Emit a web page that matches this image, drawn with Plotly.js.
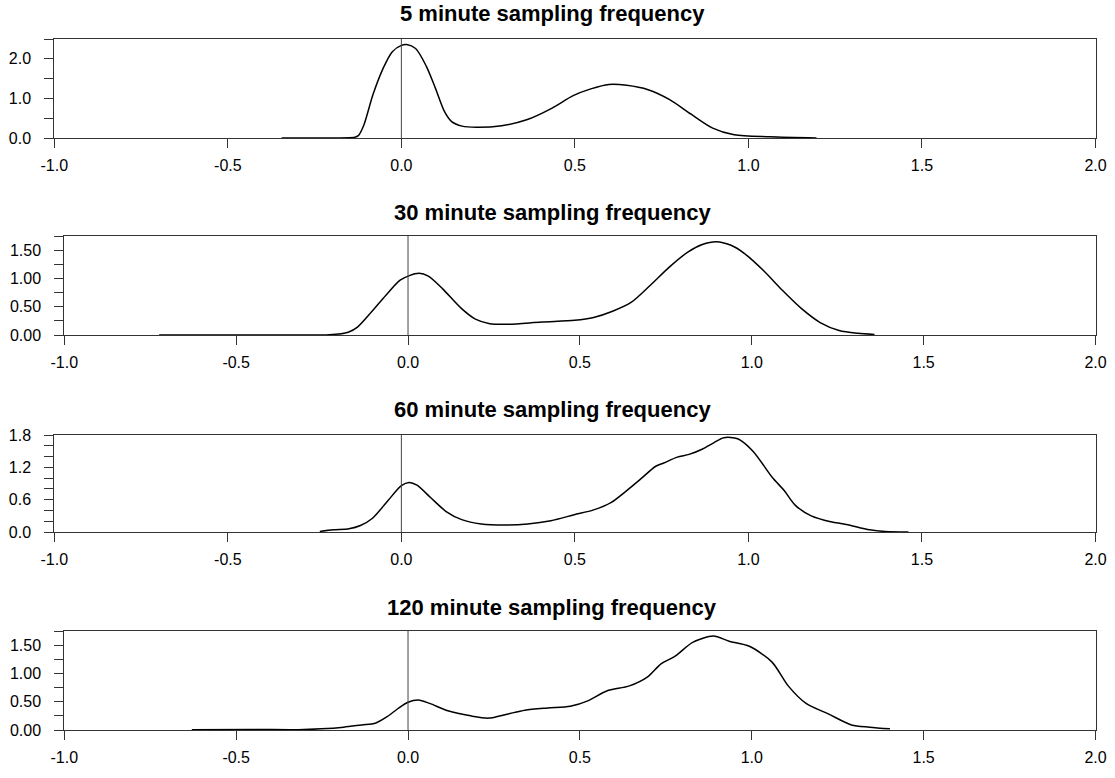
<!DOCTYPE html>
<html>
<head>
<meta charset="utf-8">
<script src="https://cdn.plot.ly/plotly-3.0.1.min.js"></script>
<style>html,body{margin:0;padding:0;background:#fff;}#chart{width:1115px;height:778px;}</style>
</head>
<body>
<div id="chart"></div>
<script>
// ---- data ----
const panelTitles = ["5 minute sampling frequency", "30 minute sampling frequency", "60 minute sampling frequency", "120 minute sampling frequency"];

const x5 = [-0.345,-0.227,-0.134,-0.124,-0.108,-0.082,-0.052,-0.026,0.0,0.015,0.041,0.072,0.098,0.124,0.144,0.175,0.216,0.289,0.361,0.433,0.495,0.546,0.598,0.649,0.711,0.773,0.835,0.897,0.959,1.062,1.196];
const y5 = [0.0,0.0,0.02,0.06,0.33,1.09,1.77,2.18,2.34,2.36,2.26,1.81,1.26,0.67,0.42,0.30,0.27,0.31,0.46,0.75,1.07,1.24,1.35,1.33,1.22,0.97,0.60,0.25,0.08,0.03,0.0];

const x30 = [-0.724,-0.545,-0.339,-0.229,-0.174,-0.147,-0.106,-0.065,-0.023,0.004,0.032,0.059,0.100,0.155,0.196,0.238,0.293,0.389,0.485,0.540,0.595,0.650,0.705,0.760,0.815,0.856,0.897,0.938,0.979,1.034,1.089,1.144,1.199,1.254,1.309,1.357];
const y30 = [0.0,0.0,0.0,0.005,0.05,0.14,0.41,0.70,0.97,1.05,1.09,1.04,0.82,0.47,0.28,0.20,0.19,0.23,0.26,0.31,0.42,0.58,0.88,1.20,1.47,1.60,1.65,1.59,1.44,1.14,0.79,0.47,0.22,0.08,0.03,0.01];

const x60 = [-0.235,-0.196,-0.151,-0.118,-0.084,-0.039,0.0,0.022,0.045,0.084,0.129,0.174,0.230,0.297,0.364,0.431,0.498,0.554,0.605,0.644,0.689,0.733,0.756,0.795,0.829,0.868,0.901,0.929,0.969,1.013,1.069,1.103,1.136,1.181,1.237,1.282,1.349,1.394,1.461];
const y60 = [0.01,0.04,0.06,0.12,0.25,0.58,0.86,0.92,0.87,0.64,0.38,0.23,0.15,0.13,0.15,0.21,0.32,0.41,0.55,0.74,0.98,1.22,1.28,1.39,1.44,1.54,1.66,1.75,1.73,1.50,1.01,0.77,0.49,0.30,0.19,0.14,0.04,0.01,0.0];

const x120 = [-0.629,-0.451,-0.319,-0.253,-0.187,-0.135,-0.095,-0.062,-0.029,0.0,0.030,0.063,0.116,0.182,0.235,0.288,0.340,0.406,0.472,0.525,0.578,0.644,0.697,0.736,0.776,0.828,0.888,0.934,0.993,1.059,1.106,1.158,1.224,1.290,1.343,1.402];
const y120 = [0.005,0.01,0.005,0.02,0.05,0.09,0.12,0.23,0.38,0.49,0.53,0.47,0.34,0.25,0.21,0.28,0.35,0.39,0.42,0.52,0.69,0.78,0.94,1.17,1.30,1.55,1.66,1.57,1.48,1.20,0.78,0.47,0.28,0.09,0.05,0.02];

const xTickVals = [-1.0, -0.5, 0.0, 0.5, 1.0, 1.5, 2.0];
const xTickText = ["-1.0", "-0.5", "0.0", "0.5", "1.0", "1.5", "2.0"];
const yRangeTop = [2.5, 1.75, 1.8, 1.75];
const yMajorStep = [1.0, 0.5, 0.6, 0.5];
const yMinorStep = [0.5, 0.25, 0.2, 0.25];
const yTickFormat = [".1f", ".2f", ".1f", ".2f"];

const seriesX = [x5, x30, x60, x120];
const seriesY = [y5, y30, y60, y120];

// ---- layout geometry (pixels) ----
const W = 1115, H = 778;
const plotLeft = [54.3, 64.3, 54.3, 64.3];
const plotRight = 1095.5;
const plotTop = [39, 236, 435, 631];
const plotBottom = [138, 335, 532, 730];
const titleY = [14, 212, 409, 607];
const titleX = 552;

const tickFont = {family: "Liberation Sans, Arial", size: 16, color: "#000"};
const titleFont = {family: "Liberation Sans, Arial", size: 22, color: "#000", weight: "bold"};
const axisColor = "#333";

const traces = [];
const layout = {
  width: W, height: H,
  margin: {l: 0, r: 0, t: 0, b: 0},
  paper_bgcolor: "#fff", plot_bgcolor: "#fff",
  showlegend: false,
  shapes: [], annotations: []
};

for (let i = 0; i < 4; i++) {
  const n = i === 0 ? "" : String(i + 1);
  traces.push({
    x: seriesX[i], y: seriesY[i], type: "scatter", mode: "lines",
    xaxis: "x" + n, yaxis: "y" + n,
    line: {color: "#000", width: 1.5, shape: "spline", smoothing: 0.8},
    hoverinfo: "skip"
  });
  layout["xaxis" + n] = {
    domain: [plotLeft[i] / W, plotRight / W],
    range: [-1, 2], anchor: "y" + n,
    tickvals: xTickVals, ticktext: xTickText,
    ticks: "outside", ticklen: 9, tickwidth: 1, tickcolor: axisColor,
    showline: true, linecolor: axisColor, linewidth: 1, mirror: true,
    showgrid: false, zeroline: false,
    tickfont: tickFont, ticklabelstandoff: 4, fixedrange: true
  };
  layout["yaxis" + n] = {
    domain: [(H - plotBottom[i]) / H, (H - plotTop[i]) / H],
    range: [0, yRangeTop[i]], anchor: "x" + n,
    tick0: 0, dtick: yMajorStep[i], tickformat: yTickFormat[i],
    ticks: "outside", ticklen: 9, tickwidth: 1, tickcolor: axisColor,
    minor: {dtick: yMinorStep[i], tick0: 0, ticks: "outside", ticklen: 9, tickwidth: 1, tickcolor: axisColor, showgrid: false},
    showline: true, linecolor: axisColor, linewidth: 1, mirror: true,
    showgrid: false, zeroline: false,
    tickfont: tickFont, ticklabelstandoff: 10, fixedrange: true
  };
  layout.shapes.push({
    type: "line", xref: "x" + n, yref: "y" + n + " domain",
    x0: 0, x1: 0, y0: 0, y1: 1,
    line: {color: "#444", width: 1}
  });
  layout.annotations.push({
    text: panelTitles[i], xref: "paper", yref: "paper",
    x: titleX / W, y: (H - titleY[i]) / H,
    xanchor: "center", yanchor: "middle", showarrow: false,
    font: titleFont
  });
}

Plotly.newPlot("chart", traces, layout, {displayModeBar: false, staticPlot: true});
</script>
</body>
</html>
